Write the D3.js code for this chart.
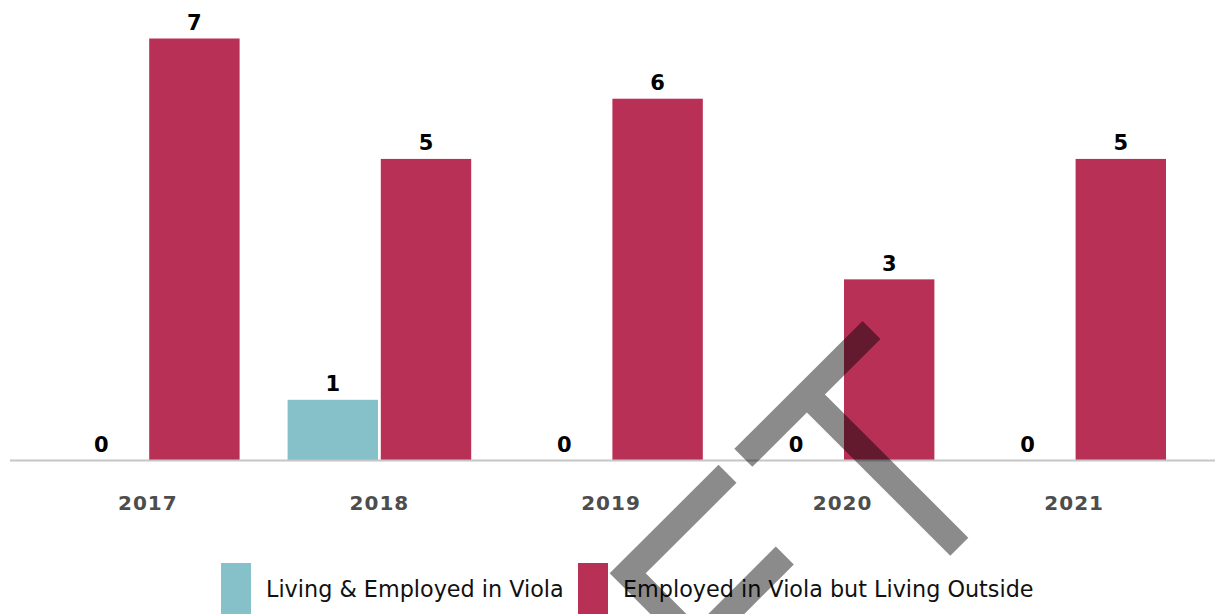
<!DOCTYPE html>
<html>
<head>
<meta charset="utf-8">
<script src="https://cdn.jsdelivr.net/npm/d3@7"></script>
<style>
  html, body { margin: 0; padding: 0; background: #fff; }
  svg { display: block; }
</style>
</head>
<body>
<script>
// Employment counts per year
const years = ["2017", "2018", "2019", "2020", "2021"];
const seriesNames = ["Living & Employed in Viola", "Employed in Viola but Living Outside"];
const livingInViola = [0, 1, 0, 0, 0];
const employedOutside = [7, 5, 6, 3, 5];
const seriesColors = ["#86c0c8", "#b83055"];

const W = 1215, H = 614;
const svg = d3.select("body").append("svg").attr("width", W).attr("height", H);

const rows = years.map((y, i) => ({ year: y, values: [livingInViola[i], employedOutside[i]] }));

const x0 = d3.scaleBand().domain(years).range([32, 1190]).padding(0);
const x1 = d3.scaleBand().domain([0, 1])
  .range([24, x0.bandwidth() - 24]).paddingInner(0.03).paddingOuter(0);
const y = d3.scaleLinear().domain([0, 7]).range([460, 38.5]);

// bars
const groups = svg.append("g").selectAll("g").data(rows).join("g")
  .attr("transform", d => `translate(${x0(d.year)},0)`);

groups.selectAll("rect").data(d => d.values.map((v, k) => ({ v, k }))).join("rect")
  .attr("x", d => x1(d.k))
  .attr("width", x1.bandwidth())
  .attr("y", d => y(d.v))
  .attr("height", d => y(0) - y(d.v))
  .attr("fill", d => seriesColors[d.k]);

groups.selectAll("text").data(d => d.values.map((v, k) => ({ v, k }))).join("text")
  .attr("x", d => x1(d.k) + x1.bandwidth() / 2)
  .attr("y", d => y(d.v) - 8.5)
  .attr("text-anchor", "middle")
  .attr("font-family", "DejaVu Sans, sans-serif")
  .attr("font-weight", "bold")
  .attr("font-size", 21)
  .attr("fill", "#000")
  .text(d => d.v);

// baseline
svg.append("line")
  .attr("x1", 10).attr("x2", W)
  .attr("y1", y(0) + 0.5).attr("y2", y(0) + 0.5)
  .attr("stroke", "#c6c6c6").attr("stroke-width", 2);

// year axis
const xAxis = svg.append("g")
  .attr("transform", `translate(0,${y(0)})`)
  .call(d3.axisBottom(x0).tickSize(0).tickPadding(0));
xAxis.select(".domain").remove();
xAxis.selectAll("text")
  .attr("dy", null)
  .attr("y", 49.5)
  .attr("font-family", "DejaVu Sans, sans-serif")
  .attr("font-weight", "bold")
  .attr("font-size", 20)
  .attr("letter-spacing", 1)
  .attr("fill", "#4d4d4d");

// legend
const legendX = [221, 578];
const legend = svg.append("g").selectAll("g").data(seriesNames).join("g")
  .attr("transform", (d, i) => `translate(${legendX[i]},563)`);
legend.append("rect")
  .attr("width", 30).attr("height", 60)
  .attr("fill", (d, i) => seriesColors[i]);
legend.append("text")
  .attr("x", 45).attr("y", 34)
  .attr("font-family", "DejaVu Sans, sans-serif")
  .attr("font-size", 22.3)
  .attr("fill", "#111")
  .text(d => d);

// translucent stamp overlay
const stamp = svg.append("g").attr("opacity", 0.45)
  .attr("fill", "none").attr("stroke", "#000")
  .attr("stroke-width", 25.5).attr("stroke-linejoin", "miter").attr("stroke-linecap", "butt");
stamp.append("path").attr("d", "M743.3,457.8L871.5,330M806.7,394.3L959.3,546.7");
stamp.append("path").attr("d", "M727.5,473.8L627.7,573.3L710,655.6");
stamp.append("path").attr("d", "M784.8,555.5L690,650.3");
</script>
</body>
</html>
